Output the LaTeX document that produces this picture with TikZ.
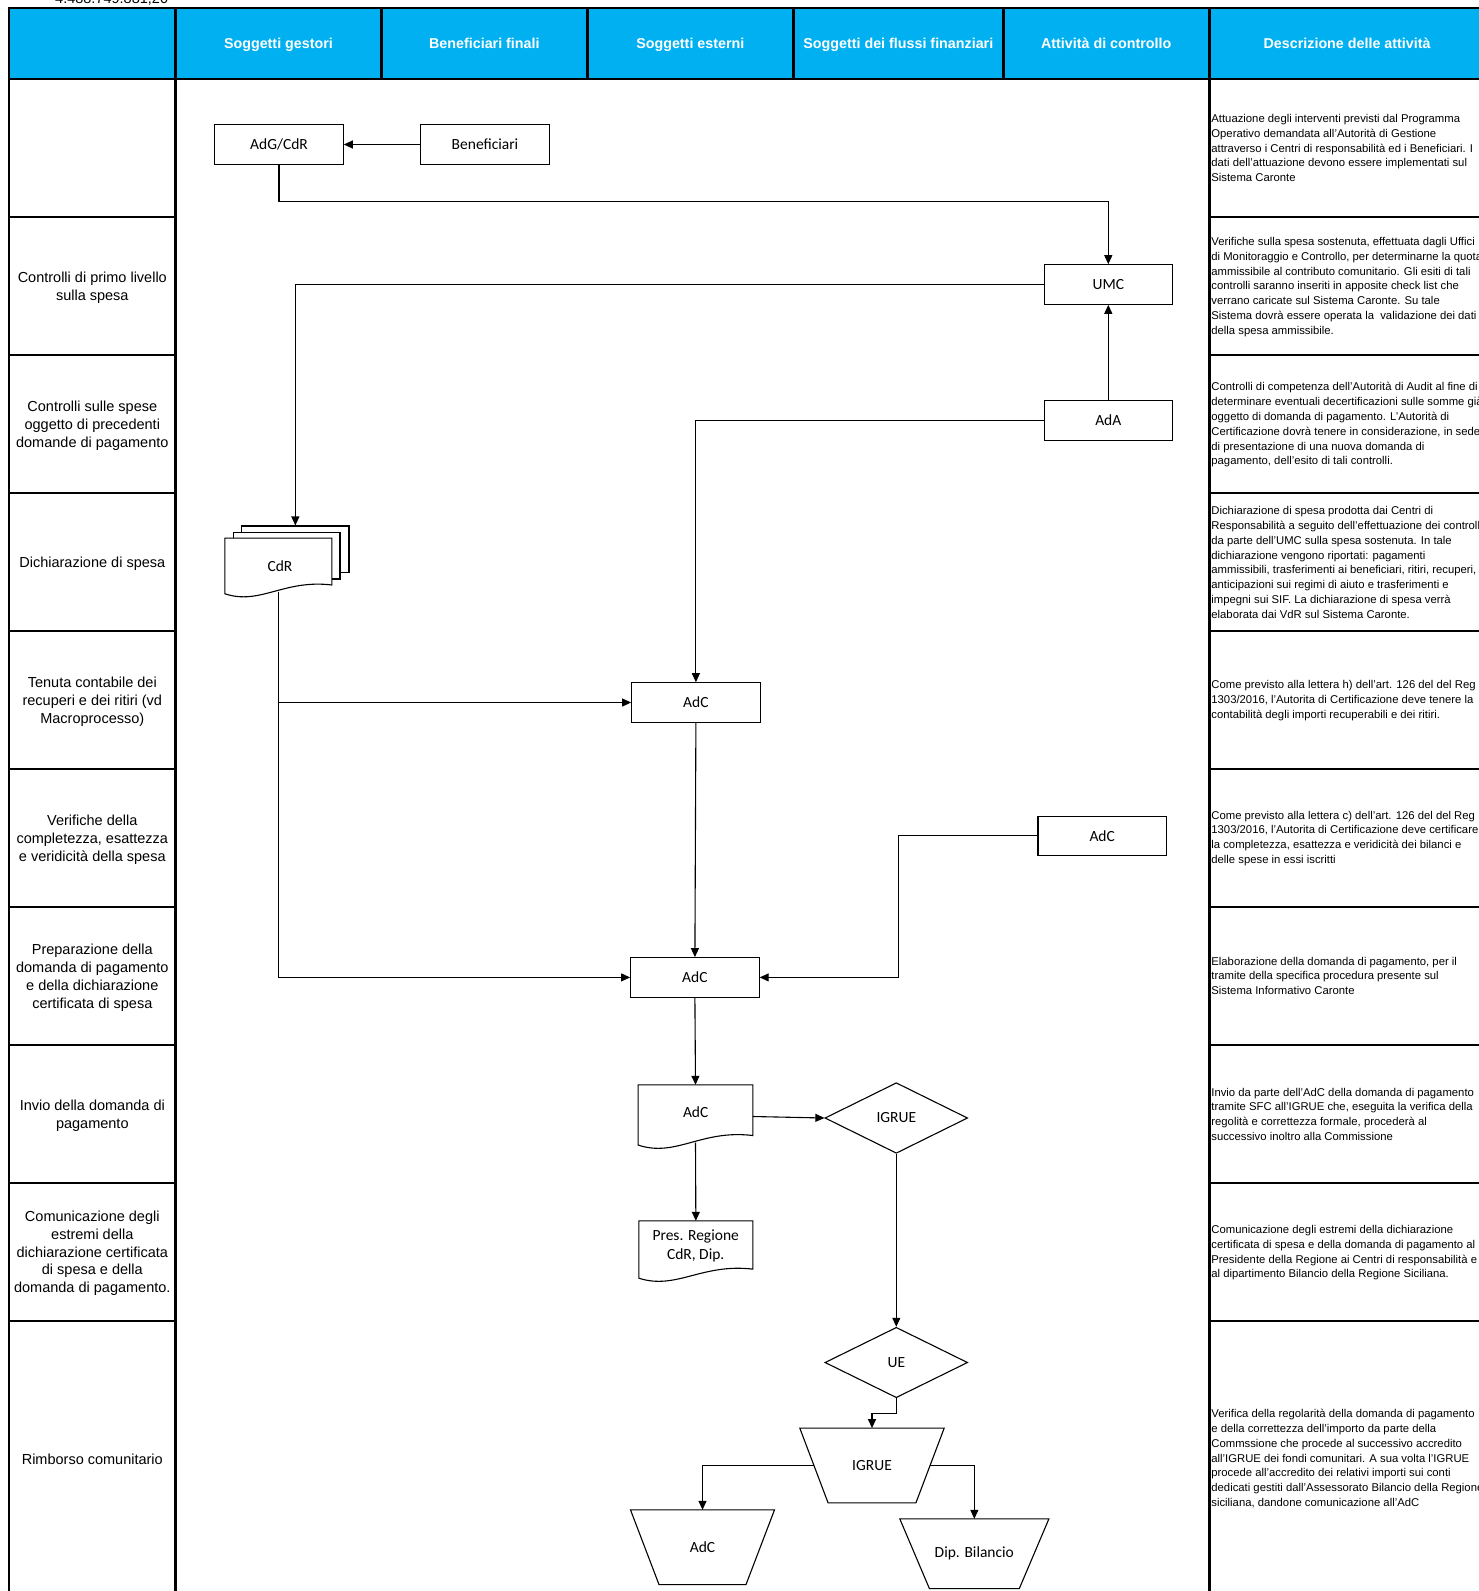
\documentclass[tikz,border=0pt]{standalone}
\usepackage{fontspec}
\setmainfont{Liberation Sans}
\newfontfamily\calfont{Carlito}
\usetikzlibrary{arrows.meta,shapes.geometric,calc}
\definecolor{hdr}{HTML}{00B0F0}
\newcommand\docoutline[2]{%
 \path[#2] let \p1=(#1.north west), \p2=(#1.south east), \n1={\x2-\x1}, \n2={\y1-\y2} in
  (\x1,\y1) -- (\x2,\y1) -- (\x2,{\y2+0.2*\n2}) .. controls ({\x1+0.55*\n1},{\y2+0.3*\n2}) and ({\x1+0.33*\n1},{\y2-0.15*\n2}) .. (\x1,{\y2+0.05*\n2}) -- cycle;}
\newcommand\trapoutline[2]{%
 \path[shapeline] (#1.north west) -- (#1.north east) -- ($(#1.south east)+(-#2,0)$) -- ($(#1.south west)+(#2,0)$) -- cycle;}
\begin{document}
\begin{tikzpicture}[x=1pt,y=-1pt,
  grid/.style={line width=2.6pt, line cap=rect},
  hdrtext/.style={text=white, inner sep=0pt, anchor=base, font=\bfseries\fontsize{14.3}{17}\selectfont},
  lefttext/.style={align=center, inner sep=0pt, font=\fontsize{14.5}{17.9}\selectfont},
  desctext/.style={align=left, anchor=west, inner sep=0pt, font=\fontsize{11.3}{14.8}\selectfont},
  nodefont/.style={font=\calfont\fontsize{15.5}{19.5}\selectfont},
  box/.style={draw, line width=1.1pt, minimum width=128.5pt, minimum height=39.5pt, inner sep=0pt, nodefont},
  shapeline/.style={draw, line width=1.1pt},
  shapefill/.style={draw, fill=white, line width=1.1pt},
  flow/.style={line width=1.1pt, -{Triangle[length=9pt,width=8pt]}},
]
\useasboundingbox (0,0) rectangle (1479,1591);
\clip (0,0) rectangle (1479,1591);
\fill[white] (0,0) rectangle (1479,1591);

% table
\node[anchor=base west, inner sep=0pt, font=\fontsize{14.5}{17}\selectfont] (total) at (55,3.3) {4.488.749.881,20};
\fill[hdr] (9.1,8.1) rectangle (1490,79.1);
\draw[grid] (9.1,8.1) -- (1490,8.1);
\draw[grid] (9.1,79.1) -- (1490,79.1);
\foreach \x in {9.1,175.5,1209.2} \draw[grid] (\x,8.1) -- (\x,1600);
\foreach \x in {381.4,587.3,793.3,1003.3} \draw[grid] (\x,8.1) -- (\x,79.1);
\foreach \y in {217.1,355.0,493.0,631.0,768.9,906.9,1044.8,1182.8,1320.8} {
  \draw[grid] (9.1,\y) -- (175.5,\y);
  \draw[grid] (1209.2,\y) -- (1490,\y);
}
\node[hdrtext] (h2) at (278.45,48.0) {Soggetti gestori};
\node[hdrtext] (h3) at (484.35,48.0) {Beneficiari finali};
\node[hdrtext] (h4) at (690.3,48.0) {Soggetti esterni};
\node[hdrtext] (h5) at (898.3,48.0) {Soggetti dei flussi finanziari};
\node[hdrtext] (h6) at (1106.25,48.0) {Attività di controllo};
\node[hdrtext] (h7) at (1347.1,48.0) {Descrizione delle attività};

\node[lefttext] (l2) at (92.3,287.5) {Controlli di primo livello\\sulla spesa};
\node[lefttext] (l3) at (92.3,425.5) {Controlli sulle spese\\oggetto di precedenti\\domande di pagamento};
\node[lefttext] (l4) at (92.3,563.5) {Dichiarazione di spesa};
\node[lefttext] (l5) at (92.3,701.5) {Tenuta contabile dei\\recuperi e dei ritiri (vd\\Macroprocesso)};
\node[lefttext] (l6) at (92.3,839.4) {Verifiche della\\completezza, esattezza\\e veridicità della spesa};
\node[lefttext] (l7) at (92.3,977.5) {Preparazione della\\domanda di pagamento\\e della dichiarazione\\certificata di spesa};
\node[lefttext] (l8) at (92.3,1115.3) {Invio della domanda di\\pagamento};
\node[lefttext] (l9) at (92.3,1253.3) {Comunicazione degli\\estremi della\\dichiarazione certificata\\di spesa e della\\domanda di pagamento.};
\node[lefttext] (l10) at (92.3,1459.2) {Rimborso comunitario};

\node[desctext] (d1) at (1211.2,148.1) {Attuazione degli interventi previsti dal Programma\\Operativo demandata all'Autorità di Gestione\\attraverso i Centri di responsabilità ed i Beneficiari. I\\dati dell'attuazione devono essere implementati sul\\Sistema Caronte};
\node[desctext] (d2) at (1211.2,287.0) {Verifiche sulla spesa sostenuta, effettuata dagli Uffici\\di Monitoraggio e Controllo, per determinarne la quota\\ammissibile al contributo comunitario. Gli esiti di tali\\controlli saranno inseriti in apposite check list che\\verrano caricate sul Sistema Caronte. Su tale\\Sistema dovrà essere operata la\ \ validazione dei dati\\della spesa ammissibile.};
\node[desctext] (d3) at (1211.2,425.0) {Controlli di competenza dell'Autorità di Audit al fine di\\determinare eventuali decertificazioni sulle somme già\\oggetto di domanda di pagamento. L'Autorità di\\Certificazione dovrà tenere in considerazione, in sede\\di presentazione di una nuova domanda di\\pagamento, dell'esito di tali controlli.};
\node[desctext] (d4) at (1211.2,562.5) {Dichiarazione di spesa prodotta dai Centri di\\Responsabilità a seguito dell'effettuazione dei controlli\\da parte dell'UMC sulla spesa sostenuta. In tale\\dichiarazione vengono riportati: pagamenti\\ammissibili, trasferimenti ai beneficiari, ritiri, recuperi,\\anticipazioni sui regimi di aiuto e trasferimenti e\\impegni sui SIF. La dichiarazione di spesa verrà\\elaborata dai VdR sul Sistema Caronte.};
\node[desctext] (d5) at (1211.2,700.5) {Come previsto alla lettera h) dell'art. 126 del del Reg\\1303/2016, l'Autorita di Certificazione deve tenere la\\contabilità degli importi recuperabili e dei ritiri.};
\node[desctext] (d6) at (1211.2,838.4) {Come previsto alla lettera c) dell'art. 126 del del Reg\\1303/2016, l'Autorita di Certificazione deve certificare\\la completezza, esattezza e veridicità dei bilanci e\\delle spese in essi iscritti};
\node[desctext] (d7) at (1211.2,975.8) {Elaborazione della domanda di pagamento, per il\\tramite della specifica procedura presente sul\\Sistema Informativo Caronte};
\node[desctext] (d8) at (1211.2,1114.3) {Invio da parte dell'AdC della domanda di pagamento\\tramite SFC all'IGRUE che, eseguita la verifica della\\regolità e correttezza formale, procederà al\\successivo inoltro alla Commissione};
\node[desctext] (d9) at (1211.2,1252.8) {Comunicazione degli estremi della dichiarazione\\certificata di spesa e della domanda di pagamento al\\Presidente della Regione ai Centri di responsabilità e\\al dipartimento Bilancio della Regione Siciliana.};
\node[desctext] (d10) at (1211.2,1458.7) {Verifica della regolarità della domanda di pagamento\\e della correttezza dell'importo da parte della\\Commssione che procede al successivo accredito\\all'IGRUE dei fondi comunitari. A sua volta l'IGRUE\\procede all'accredito dei relativi importi sui conti\\dedicati gestiti dall'Assessorato Bilancio della Regione\\siciliana, dandone comunicazione all'AdC};

% flowchart nodes
\node[box] (adg) at (279,144.5) {AdG/CdR};
\node[box] (ben) at (485,144.5) {Beneficiari};
\node[box] (umc) at (1108.3,284.5) {UMC};
\node[box] (ada) at (1108.3,420.5) {AdA};
\node[box] (adc1) at (695.9,702.5) {AdC};
\node[box] (adc2) at (694.9,977.4) {AdC};
\node[box] (adc3) at (1102.2,835.9) {AdC};

% CdR multi-document
\node[shapefill, inner sep=0pt, minimum width=107.3pt, minimum height=46.7pt] (cdrb3) at (295.35,549.35) {};
\node[shapefill, inner sep=0pt, minimum width=106.7pt, minimum height=46.7pt] (cdrb2) at (286.65,555.65) {};
\node[inner sep=0pt, minimum width=106.7pt, minimum height=58.2pt] (cdr) at (278.35,567.4) {};
\docoutline{cdr}{shapefill}
\node[nodefont] (cdrt) at (280,566.5) {CdR};
\coordinate (cdrbot) at ($(cdr.south)+(0,-5)$);

% AdC document
\node[inner sep=0pt, minimum width=114.4pt, minimum height=63pt] (adcdoc) at (695.5,1116.5) {};
\docoutline{adcdoc}{shapeline}
\node[nodefont] (adcdoct) at (695.7,1112.5) {AdC};
\coordinate (adcdocbot) at ($(adcdoc.south)+(0,-5.5)$);

% Pres. Regione document
\node[inner sep=0pt, minimum width=113.7pt, minimum height=60pt] (pres) at (695.85,1251) {};
\docoutline{pres}{shapeline}
\node[nodefont, align=center] (prest) at (695.7,1246) {Pres. Regione\\CdR, Dip.};

% diamonds
\node[diamond, draw, line width=1.1pt, minimum width=142.7pt, minimum height=70.6pt, inner sep=0pt, nodefont] (igrue1) at (896.3,1118) {IGRUE};
\node[diamond, draw, line width=1.1pt, minimum width=142.7pt, minimum height=70.4pt, inner sep=0pt, nodefont] (ue) at (896.3,1362.5) {UE};

% trapezoids
\node[inner sep=0pt, minimum width=144pt, minimum height=74.4pt, nodefont] (igrue2) at (872,1465.5) {IGRUE};
\trapoutline{igrue2}{28.3}
\node[inner sep=0pt, minimum width=143.6pt, minimum height=74.3pt, nodefont] (adctr) at (702.5,1547.2) {AdC};
\trapoutline{adctr}{28.5}
\node[inner sep=0pt, minimum width=148.7pt, minimum height=69.3pt, nodefont] (dip) at (974.35,1553.7) {Dip. Bilancio};
\trapoutline{dip}{29.6}
\coordinate (igl) at ($(igrue2.west)+(14.2,0)$);
\coordinate (igr) at ($(igrue2.east)+(-14.2,0)$);

% connectors
\draw[flow] (ben.west) -- (adg.east);
\draw[flow] (adg.south) -- ++(0,36.6) -| (umc.north);
\draw[flow] (umc.west) -| (cdrb3.north);
\draw[flow] (ada.north) -- (umc.south);
\draw[flow] (ada.west) -| (adc1.north);
\draw[flow] (cdrbot) |- (adc1.west);
\draw[flow] (cdrbot) |- (adc2.west);
\draw[flow] (adc1.south) -- (adc2.north);
\draw[flow] (adc3.west) -- ++(-138.9,0) |- (adc2.east);
\draw[flow] (adc2.south) -- (adcdoc.north);
\draw[flow] (adcdoc.east) -- (igrue1.west);
\draw[flow] (adcdocbot) -- (pres.north);
\draw[flow] (igrue1.south) -- (ue.north);
\draw[flow] (ue.south) -- ++(0,15.6) -| (igrue2.north);
\draw[flow] (igl) -| (adctr.north);
\draw[flow] (igr) -| (dip.north);
\end{tikzpicture}
\end{document}
